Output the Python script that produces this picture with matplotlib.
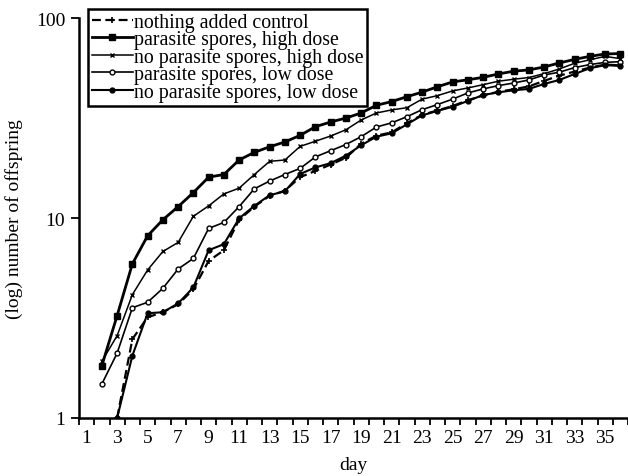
"""
Offspring counts per day for the five treatments (log scale)
"""
import matplotlib
matplotlib.use("Agg")
import matplotlib.pyplot as plt
from matplotlib.ticker import FixedLocator, FixedFormatter, NullFormatter

# -----------------------------
# 1. Data
# -----------------------------
days_from_2 = list(range(2, 37))
days_from_3 = list(range(3, 37))

control = [1.0, 2.48, 3.19, 3.38, 3.7, 4.4, 6.1, 6.9, 9.8, 11.4, 12.9, 13.7,
           16.0, 17.2, 18.5, 20.0, 23.5, 25.8, 26.8, 29.8, 32.8, 34.5, 36.3,
           38.8, 41.0, 42.8, 44.0, 45.5, 48.5, 51.5, 54.0, 56.5, 58.5, 58.0]
parasite_high = [1.83, 3.25, 5.9, 8.15, 9.8, 11.4, 13.4, 16.0, 16.5, 19.5,
                 21.3, 22.7, 24.0, 25.9, 28.6, 30.2, 31.6, 33.5, 36.6, 38.2,
                 40.4, 42.6, 45.3, 47.9, 49.1, 50.5, 52.5, 54.2, 55.0, 56.9,
                 59.6, 62.1, 64.3, 66.1, 66.4]
no_parasite_high = [1.92, 2.58, 4.14, 5.5, 6.8, 7.55, 10.2, 11.5, 13.2, 14.1,
                    16.5, 19.2, 19.5, 22.8, 24.2, 25.7, 27.6, 30.9, 33.5, 34.7,
                    35.6, 39.3, 40.9, 43.2, 44.7, 46.4, 48.3, 49.4, 50.4, 52.7,
                    55.6, 59.4, 61.8, 64.3, 62.6]
parasite_low = [1.48, 2.11, 3.56, 3.79, 4.45, 5.56, 6.28, 8.87, 9.5, 11.4,
                14.0, 15.3, 16.5, 17.7, 20.2, 21.7, 23.3, 25.5, 28.5, 29.9,
                32.1, 34.8, 36.9, 39.3, 42.2, 44.2, 45.9, 47.3, 49.0, 51.9,
                53.6, 56.5, 58.5, 60.0, 60.5]
no_parasite_low = [1.0, 2.05, 3.34, 3.38, 3.74, 4.5, 6.9, 7.4, 9.96, 11.5,
                   13.0, 13.6, 16.6, 17.9, 18.8, 20.5, 23.1, 25.5, 26.5, 29.4,
                   32.6, 34.3, 36.0, 38.5, 41.2, 42.5, 43.5, 44.2, 46.8, 49.0,
                   52.5, 56.1, 58.1, 57.6]

labels = ["nothing added control", "parasite spores, high dose",
          "no parasite spores, high dose", "parasite spores, low dose",
          "no parasite spores, low dose"]

# -----------------------------
# 2. Plot
# -----------------------------
plt.rcParams["font.family"] = ["Liberation Serif", "DejaVu Serif"]
plt.rcParams["font.size"] = 14

fig = plt.figure(figsize=(6.28, 4.77), dpi=100)
ax = fig.add_axes([79 / 628, 58 / 477, 549 / 628, 400 / 477])

ax.plot(days_from_3, control, color="black", lw=1.6, ls=(0, (4, 2)),
        marker="+", ms=4, mew=1.2, label=labels[0])
ax.plot(days_from_2, parasite_high, color="black", lw=2, marker="s", ms=5,
        label=labels[1])
ax.plot(days_from_2, no_parasite_high, color="black", lw=1.1, marker="x",
        ms=3.5, mew=1, label=labels[2])
ax.plot(days_from_2, parasite_low, color="black", lw=1.2, marker="o", ms=3.5,
        mfc="white", mew=1, label=labels[3])
ax.plot(days_from_3, no_parasite_low, color="black", lw=1.5, marker="o",
        ms=3.5, label=labels[4])

ax.set_yscale("log")
ax.set_ylim(1, 100)
ax.set_xlim(0.5, 36.2)

ax.yaxis.set_major_locator(FixedLocator([1, 10, 100]))
ax.yaxis.set_major_formatter(FixedFormatter(["1", "10", "100"]))
ax.yaxis.set_minor_locator(FixedLocator([]))
ax.yaxis.set_minor_formatter(NullFormatter())

ax.set_xticks(range(1, 36, 2))
ax.set_xticks([d + 0.5 for d in range(0, 37)], minor=True)
ax.tick_params(axis="x", which="major", length=0, pad=8)
ax.tick_params(axis="x", which="minor", length=5, width=1.3, direction="out")
ax.tick_params(axis="y", which="major", length=6, width=1.3, direction="out", pad=4)

for side in ["top", "right"]:
    ax.spines[side].set_visible(False)
for side in ["left", "bottom"]:
    ax.spines[side].set_linewidth(1.8)

ax.set_xlabel("day", labelpad=7)
ax.set_ylabel("(log) number of offspring", labelpad=9)

leg = fig.legend(loc="upper left", bbox_to_anchor=(88 / 628, 1 - 10 / 477),
                 borderaxespad=0, handlelength=2.05, handletextpad=0.05,
                 labelspacing=-0.08, borderpad=0.2, fancybox=False,
                 edgecolor="black", framealpha=1, fontsize=14.3)
leg.get_frame().set_linewidth(1.8)

fig.savefig("out.png", dpi=100)
